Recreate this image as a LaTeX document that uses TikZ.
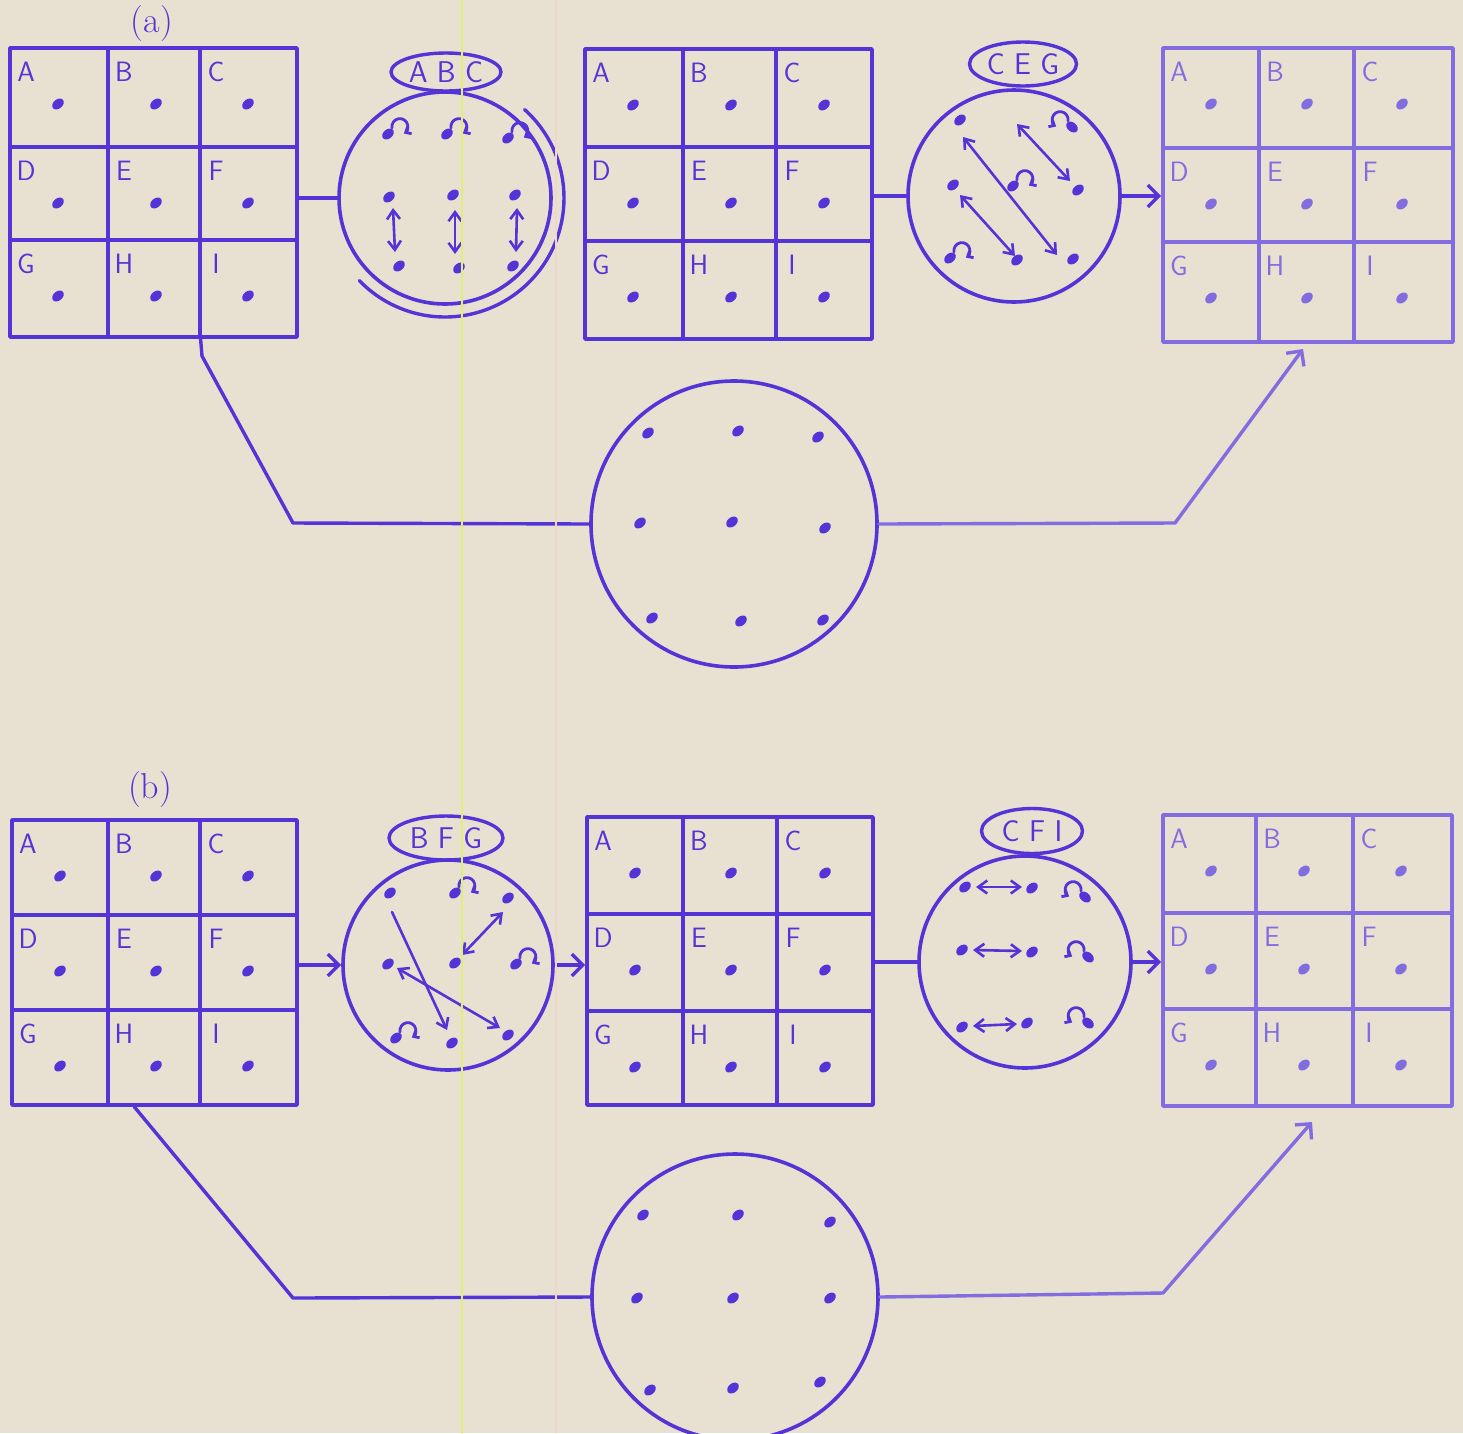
\documentclass[tikz,border=0pt]{standalone}
\usepackage{fontspec}
\usetikzlibrary{arrows.meta,shapes.geometric,fit,calc}
\definecolor{paper}{RGB}{232,224,209}
\definecolor{ink}{RGB}{84,52,214}
\definecolor{inklight}{RGB}{130,108,224}
\definecolor{scanyellow}{RGB}{222,238,120}
\definecolor{scanpink}{RGB}{238,216,204}

\tikzset{
  inkdot/.pic={\fill[rotate=40] (0,0) ellipse[x radius=6.5, y radius=4.6];},
  spin/.pic={\fill[rotate=40] (0,0) ellipse[x radius=6.5, y radius=4.6];
    \draw[line width=2.8pt,-{Straight Barb[length=4.5pt,width=8pt]}] (4,6) arc[start angle=190, end angle=-60, radius=8];},
}

\newcommand\gcell[3]{%
  \node[cellletter] at ({#1+16},{-(#2)-24}) {#3};
  \pic at ({#1+48},{-(#2)-56}) {inkdot};
}
\newcommand\ninegrid[9]{%
  \node[gridbox, fit={(#2,-#6) (#5,-#9)}] (#1) {};
  \draw[gridline] (#3,-#6) -- (#3,-#9) (#4,-#6) -- (#4,-#9)
                  (#2,-#7) -- (#5,-#7) (#2,-#8) -- (#5,-#8);
  \gcell{#2}{#6}{A}\gcell{#3}{#6}{B}\gcell{#4}{#6}{C}
  \gcell{#2}{#7}{D}\gcell{#3}{#7}{E}\gcell{#4}{#7}{F}
  \gcell{#2}{#8}{G}\gcell{#3}{#8}{H}\gcell{#4}{#8}{I}
}

\begin{document}
\begin{tikzpicture}[x=1pt,y=1pt,color=ink,line join=round,line cap=round,
  gridbox/.style={draw, rectangle, line width=3.6pt, inner sep=0pt},
  gridline/.style={line width=3.6pt},
  ring/.style={draw, circle, line width=3.6pt, inner sep=0pt},
  tagoval/.style={draw, ellipse, line width=3.4pt, inner sep=0pt},
  tagtext/.style={font=\fontsize{30}{30}\selectfont\sffamily},
  cellletter/.style={font=\fontsize{28}{28}\selectfont\sffamily},
  partlabel/.style={font=\fontsize{36}{36}\selectfont},
  conn/.style={line width=3.4pt},
  arr/.style={line width=3.4pt, -{Straight Barb[length=11pt,width=22pt]}},
  sarr/.style={line width=2.6pt, -{Straight Barb[length=9pt,width=13pt]}},
  dbl/.style={line width=2.6pt, {Straight Barb[length=9pt,width=13pt]}-{Straight Barb[length=9pt,width=13pt]}},
]
\useasboundingbox (0,0) rectangle (1463,-1433);
\fill[paper] (0,0) rectangle (1463,-1433);
\clip (0,0) rectangle (1463,-1433);

% ---------------- (a) ----------------
\node[partlabel] (la) at (152,-24) {(a)};
\ninegrid{g1}{10}{108}{200}{297}{48}{147}{240}{337}
\ninegrid{g2}{585}{683}{776}{872}{49}{147}{241}{339}
\begin{scope}[color=inklight]
\ninegrid{g3}{1163}{1259}{1354}{1453}{48}{148}{242}{342}
\end{scope}

% circle 1 (ABC)
\node[ring, minimum size=212pt] (c1) at (445,-198) {};
\node[tagoval, minimum width=110pt, minimum height=38pt] (e1) at (446,-72) {};
\node[tagtext] at (e1) {A B C};
\draw[conn] ($(c1.center)+(48:119)$) arc[start angle=48, end angle=-136, radius=119];
\pic at (388,-134) {spin}; \pic at (447,-134) {spin}; \pic at (508,-138) {spin};
\pic at (389,-197) {inkdot}; \pic at (453,-195) {inkdot}; \pic at (515,-195) {inkdot};
\pic at (399,-266) {inkdot}; \pic at (459,-268) {inkdot}; \pic at (513,-266) {inkdot};
\draw[dbl] (393,-208) -- (395,-252);
\draw[dbl] (455,-210) -- (455,-254);
\draw[dbl] (517,-208) -- (516,-252);
\draw[conn] (c1.west -| g1.east) -- (c1.west);

% circle 2 (CEG)
\node[ring, minimum size=212pt] (c2) at (1014,-196) {};
\node[tagoval, minimum width=107pt, minimum height=44pt] (e2) at (1023,-64) {};
\node[tagtext] at (e2) {C E G};
\pic at (960,-120) {inkdot};
\pic[xscale=-1] at (1072,-127) {spin};
\pic at (953,-185) {inkdot};
\pic at (1013,-186) {spin};
\pic at (1078,-190) {inkdot};
\pic at (950,-258) {spin};
\pic at (1017,-260) {inkdot};
\pic at (1073,-259) {inkdot};
\draw[dbl] (963,-137) -- (1057,-255);
\draw[dbl] (960,-195) -- (1015,-256);
\draw[dbl] (1017,-124) -- (1070,-181);
\draw[conn] (c2.west -| g2.east) -- (c2.west);
\draw[arr] (c2.east) -- (c2.east -| g3.west);

% bottom circle (a)
\node[ring, minimum size=286pt] (cb1) at (734,-524) {};
\foreach \p in {(648,-433),(738,-431),(818,-437),(640,-523),(732,-522),(825,-528),(652,-618),(741,-621),(823,-620)}
  \pic at \p {inkdot};
\coordinate (a1) at (202,-356);
\coordinate (a2) at (293,-523);
\coordinate (a3) at (1175,-523);
\coordinate (a4) at (1303,-349);
\draw[conn] ($(g1.south west)!0.662!(g1.south east)$) -- (a1) -- (a2) -- (cb1.west);
\draw[arr,color=inklight] (cb1.east) -- (a3) -- (a4);

% ---------------- (b) ----------------
\node[partlabel] (lb) at (150,-790) {(b)};
\ninegrid{g4}{12}{108}{200}{297}{820}{915}{1010}{1105}
\ninegrid{g5}{587}{683}{777}{873}{817}{914}{1011}{1105}
\begin{scope}[color=inklight]
\ninegrid{g6}{1163}{1256}{1353}{1452}{815}{913}{1009}{1106}
\end{scope}

% circle 3 (BFG)
\node[ring, minimum size=210pt] (c3) at (448,-965) {};
\node[tagoval, minimum width=114pt, minimum height=44pt] (e3) at (446,-838) {};
\node[tagtext] at (e3) {B F G};
\pic at (390,-893) {inkdot};
\pic at (455,-893) {spin};
\pic at (508,-898) {inkdot};
\pic at (388,-964) {inkdot};
\pic at (455,-963) {inkdot};
\pic at (516,-964) {spin};
\pic at (396,-1038) {spin};
\pic at (452,-1043) {inkdot};
\pic at (508,-1035) {inkdot};
\draw[sarr] (392,-912) -- (447,-1030);
\draw[dbl] (397,-968) -- (500,-1028);
\draw[dbl] (462,-955) -- (503,-912);
\draw[arr] (c3.west -| g4.east) -- (c3.west);
\draw[arr] (c3.east) -- (c3.east -| g5.west);

% circle 4 (CFI)
\node[ring, minimum size=212pt] (c4) at (1025,-962) {};
\node[tagoval, minimum width=101pt, minimum height=45pt] (e4) at (1032,-831) {};
\node[tagtext] at (e4) {C F I};
\pic at (965,-887) {inkdot}; \pic at (1032,-888) {inkdot};
\draw[dbl] (976,-887) -- (1022,-887);
\pic[xscale=-1] at (1085,-897) {spin};
\pic at (962,-950) {inkdot}; \pic at (1032,-952) {inkdot};
\draw[dbl] (973,-950) -- (1022,-951);
\pic[xscale=-1] at (1088,-957) {spin};
\pic at (962,-1027) {inkdot}; \pic at (1027,-1023) {inkdot};
\draw[dbl] (973,-1026) -- (1017,-1024);
\pic[xscale=-1] at (1088,-1023) {spin};
\draw[conn] (c4.west -| g5.east) -- (c4.west);
\draw[arr] (c4.east) -- (c4.east -| g6.west);

% bottom circle (b)
\node[ring, minimum size=286pt] (cb2) at (735,-1297) {};
\foreach \p in {(643,-1215),(738,-1215),(830,-1222),(637,-1298),(733,-1298),(830,-1298),(650,-1390),(733,-1388),(820,-1382)}
  \pic at \p {inkdot};
\coordinate (b1) at (293,-1298);
\coordinate (b3) at (1163,-1293);
\coordinate (b4) at (1312,-1122);
\draw[conn] ($(g4.south west)!0.43!(g4.south east)$) -- (b1) -- (cb2.west);
\draw[arr,color=inklight] (cb2.east) -- (b3) -- (b4);

% scan artefacts
\draw[scanyellow, line width=1.5pt] (462,0) -- (462,-1433);
\draw[scanpink, line width=1.2pt] (556,0) -- (556,-1433);
\end{tikzpicture}
\end{document}
